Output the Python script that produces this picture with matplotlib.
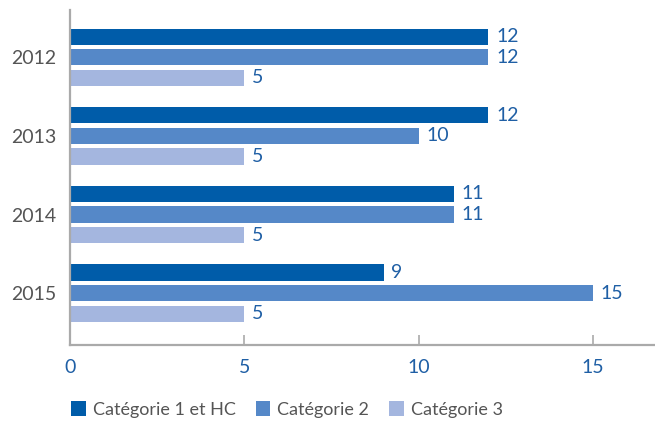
import numpy as np
import matplotlib.pyplot as plt

years = ['2012', '2013', '2014', '2015']
series = ['Catégorie 1 et HC', 'Catégorie 2', 'Catégorie 3']
cat1 = [12, 12, 11, 9]
cat2 = [12, 10, 11, 15]
cat3 = [5, 5, 5, 5]
colors = ['#005ca9', '#5588c8', '#a4b6df']

plt.rcParams['font.family'] = ['Lato', 'DejaVu Sans']
label_blue = '#1f5fa5'
grey = '#555555'
fs = 14

fig = plt.figure(figsize=(6.55, 4.21), dpi=100)
ax = fig.add_axes([0.107, 0.1805, 0.893, 0.7955])

y = np.arange(len(years))
pitch = 0.262
height = 0.205
for k, (vals, col) in enumerate(zip([cat1, cat2, cat3], colors)):
    pos = y + (k - 1) * pitch
    ax.barh(pos, vals, height=height, color=col, label=series[k])
    for p, v in zip(pos, vals):
        ax.text(v + 0.22, p, str(v), va='center', ha='left',
                fontsize=fs, color=label_blue)

ax.set_ylim(3.66, -0.6)
ax.set_xlim(0, 16.78)
ax.set_yticks(y)
ax.set_yticklabels(years, fontsize=fs, color=grey)
ax.set_xticks([0, 5, 10, 15])
ax.set_xticklabels(['0', '5', '10', '15'], fontsize=fs, color=label_blue)
ax.tick_params(axis='y', length=0, pad=10)
ax.tick_params(axis='x', direction='in', length=7, width=1.2,
               color='#aaaaaa', pad=10)

for s in ['top', 'right']:
    ax.spines[s].set_visible(False)
for s in ['left', 'bottom']:
    ax.spines[s].set_color('#aaaaaa')
    ax.spines[s].set_linewidth(1.6)

fig.legend(loc='center left', bbox_to_anchor=(0.084, 0.028), ncol=3,
           frameon=False, fontsize=13, handlelength=0.8, handleheight=0.9,
           handletextpad=0.4, columnspacing=1.1, labelcolor=grey)

fig.savefig('out.png', dpi=100)
